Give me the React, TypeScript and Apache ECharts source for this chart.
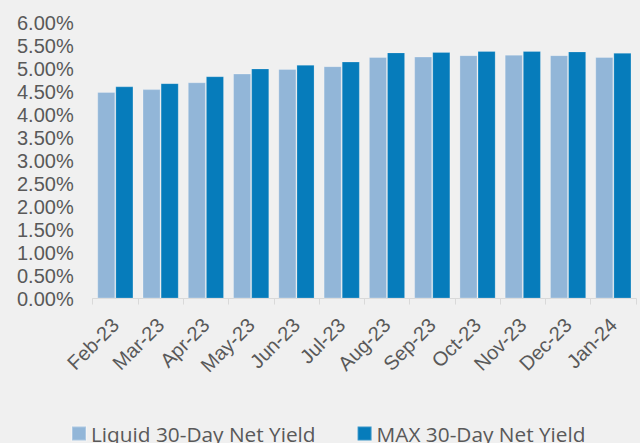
import React, { useEffect, useRef } from "react";
import * as echarts from "echarts";

const categories = ["Feb-23", "Mar-23", "Apr-23", "May-23", "Jun-23", "Jul-23", "Aug-23", "Sep-23", "Oct-23", "Nov-23", "Dec-23", "Jan-24"];
const liquidYield = [4.50, 4.56, 4.71, 4.90, 5.00, 5.06, 5.26, 5.27, 5.30, 5.31, 5.30, 5.26];
const maxYield = [4.62, 4.69, 4.84, 5.01, 5.09, 5.16, 5.36, 5.37, 5.39, 5.39, 5.38, 5.35];
const seriesNames = ["Liquid 30-Day Net Yield", "MAX 30-Day Net Yield"];

export default function App() {
  const ref = useRef<HTMLDivElement>(null);
  useEffect(() => {
    if (!ref.current) return;
    const chart = echarts.init(ref.current, null, { renderer: "svg" });
    chart.setOption({
      animation: false,
      backgroundColor: "#F0F0F0",
      grid: {
        left: 92.7,
        right: 4,
        top: 23,
        bottom: 144.5,
        containLabel: false,
        outerBoundsMode: "none",
      },
      legend: {
        left: 71,
        top: 423,
        itemWidth: 14,
        itemHeight: 14,
        itemGap: 41,
        icon: "rect",
        padding: 0,
        textStyle: { fontFamily: "Open Sans", fontSize: 20.8, color: "#595959" },
        data: seriesNames,
      },
      xAxis: {
        type: "category",
        data: categories,
        axisLine: { show: true, lineStyle: { color: "#D9D9D9", width: 1 } },
        axisTick: { show: true, length: 6, lineStyle: { color: "#D9D9D9" } },
        axisLabel: {
          rotate: 45,
          interval: 0,
          margin: 23,
          fontFamily: "Liberation Sans",
          fontSize: 20,
          color: "#595959",
        },
      },
      yAxis: {
        type: "value",
        min: 0,
        max: 6,
        interval: 0.5,
        axisLine: { show: false },
        axisTick: { show: false },
        splitLine: { show: false },
        axisLabel: {
          margin: 19,
          fontFamily: "Liberation Sans",
          fontSize: 20,
          color: "#595959",
          formatter: (v: number) => v.toFixed(2) + "%",
        },
      },
      series: [
        {
          name: seriesNames[0],
          type: "bar",
          data: liquidYield,
          barGap: "0%",
          barCategoryGap: "20%",
          itemStyle: { color: "#92B6D8", borderColor: "rgba(255,255,255,0.25)", borderWidth: 1 },
        },
        {
          name: seriesNames[1],
          type: "bar",
          data: maxYield,
          barGap: "0%",
          barCategoryGap: "20%",
          itemStyle: { color: "#067CBB", borderColor: "rgba(255,255,255,0.2)", borderWidth: 1 },
        },
      ],
    });
    return () => chart.dispose();
  }, []);
  return (
    <div
      ref={ref}
      style={{ position: "fixed", left: 0, top: 0, width: 640, height: 443 }}
    />
  );
}
